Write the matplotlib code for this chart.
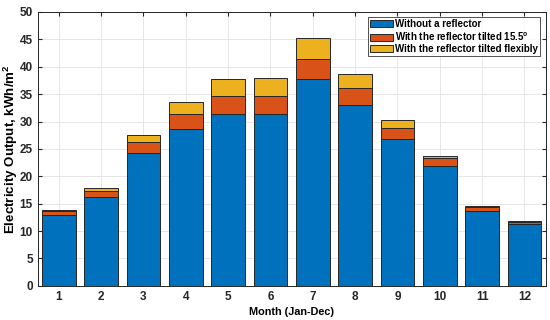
import numpy as np
import matplotlib.pyplot as plt

plt.rcParams['font.family'] = ['Liberation Sans', 'DejaVu Sans']
plt.rcParams['font.weight'] = 'bold'

months = [str(m) for m in range(1, 13)]
no_reflector = [12.9, 16.3, 24.3, 28.6, 31.4, 31.3, 37.7, 33.1, 26.8, 21.8, 13.7, 11.3]
tilted_gain = [0.7, 1.05, 2.0, 2.7, 3.2, 3.3, 3.8, 3.0, 2.1, 1.5, 0.7, 0.4]
flexible_gain = [0.15, 0.45, 1.2, 2.3, 3.2, 3.3, 3.8, 2.6, 1.4, 0.45, 0.15, 0.1]

labels = ['Without a reflector',
          'With the reflector tilted 15.5$^\\mathregular{o}$',
          'With the reflector tilted flexibly']
colors = ['#0072BD', '#D95319', '#EDB120']

fig = plt.figure(figsize=(5.5, 3.2), dpi=100)
ax = fig.add_axes([0.0685, 0.107, 0.9235, 0.8555])

x = np.arange(1, 13)
bottom = np.zeros(12)
for vals, lab, c in zip([no_reflector, tilted_gain, flexible_gain], labels, colors):
    ax.bar(x, vals, width=0.8, bottom=bottom, color=c, edgecolor='#262626',
           linewidth=0.7, label=lab, zorder=3)
    bottom += np.array(vals)

ax.set_xlim(0.5, 12.5)
ax.set_ylim(0, 50)
ax.set_xticks(x)
ax.set_xticklabels(months)
ax.set_yticks(range(0, 51, 5))
ax.grid(True, color='#e6e6e6', linewidth=0.7, zorder=0)
ax.tick_params(direction='in', top=True, right=True, labelsize=8.5,
               colors='#262626', length=3)
for lbl in ax.get_xticklabels() + ax.get_yticklabels():
    lbl.set_fontweight('bold')
for s in ax.spines.values():
    s.set_color('#262626')
    s.set_linewidth(0.7)

ax.set_xlabel('Month (Jan-Dec)', fontsize=7.8, fontweight='bold', labelpad=3)
ax.set_ylabel('Electricity Output, kWh/m$^\\mathregular{2}$', fontsize=9.6,
              fontweight='bold')
ax.yaxis.set_label_coords(-0.034, 0.5)

leg = ax.legend(loc='upper right', fontsize=7.0, frameon=True, fancybox=False,
                edgecolor='#262626', handlelength=2.3, handleheight=0.75,
                handletextpad=0.3, borderpad=0.2, labelspacing=0.12,
                borderaxespad=0.55)
leg.get_frame().set_linewidth(0.7)
for t in leg.get_texts():
    t.set_fontweight('bold')

fig.savefig('out.png', dpi=100)
